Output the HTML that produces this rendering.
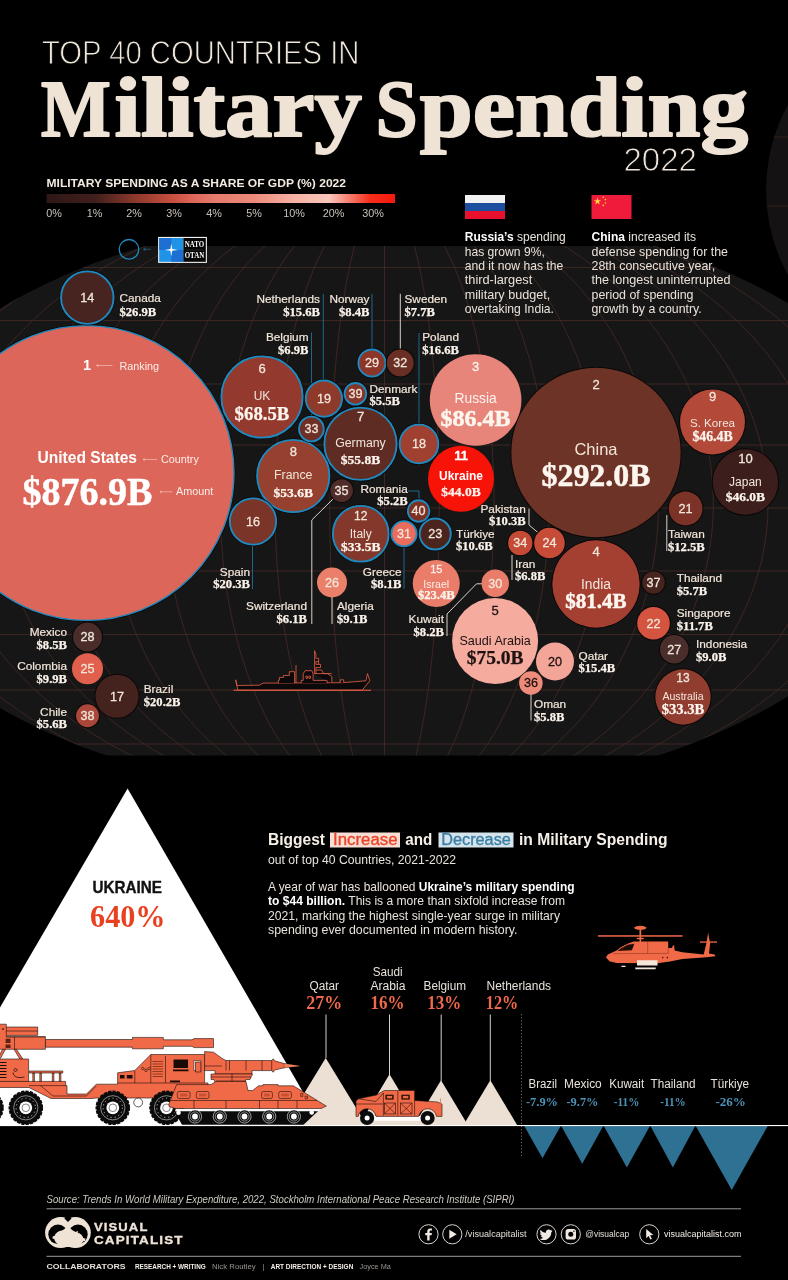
<!DOCTYPE html>
<html lang="en">
<head>
<meta charset="utf-8">
<title>Top 40 Countries in Military Spending 2022</title>
<style>
html,body{margin:0;padding:0;background:#000;}
body{width:788px;height:1280px;overflow:hidden;}
svg{display:block;}
text{white-space:pre;}
</style>
</head>
<body>
<svg width="788" height="1280" viewBox="0 0 788 1280">
<defs>
<clipPath id="globe"><ellipse cx="391.3" cy="504" rx="533.6" ry="293.8" transform="rotate(-0.887 391.3 504)"/></clipPath>
<clipPath id="band"><rect x="0" y="246" width="788" height="509.5"/></clipPath>
<linearGradient id="scale" x1="0" x2="1" y1="0" y2="0"><stop offset="0" stop-color="#2e1716"/><stop offset="0.14" stop-color="#401f1c"/><stop offset="0.25" stop-color="#8a372b"/><stop offset="0.365" stop-color="#c9503f"/><stop offset="0.42" stop-color="#dc6659"/><stop offset="0.48" stop-color="#e47a6c"/><stop offset="0.595" stop-color="#ec8a7a"/><stop offset="0.71" stop-color="#f6b0a4"/><stop offset="0.81" stop-color="#f9c6bb"/><stop offset="0.87" stop-color="#f67d6d"/><stop offset="0.93" stop-color="#f62c1b"/><stop offset="1" stop-color="#f5190c"/></linearGradient>
</defs>
<rect x="0" y="0" width="788" height="1280" fill="#000"/>
<circle cx="942" cy="190" r="176" fill="#141212"/>
<path d="M774 137H788M767 206H788" stroke="#3a2722" stroke-width="0.8" fill="none"/>
<g clip-path="url(#band)">
<ellipse cx="391.3" cy="504" rx="533.6" ry="293.8" fill="#171616" transform="rotate(-0.887 391.3 504)"/>
<g clip-path="url(#globe)" stroke="#4c2e26" stroke-width="0.7" fill="none">
<path d="M0 267.5H788"/>
<path d="M0 320.5H788"/>
<path d="M0 384H788"/>
<path d="M0 445H788"/>
<path d="M0 508H788"/>
<path d="M0 571H788"/>
<path d="M0 634.5H788"/>
<path d="M0 690H788"/>
<path d="M0 744H788"/>
<path d="M384.5 246V755.5"/>
<ellipse cx="384.5" cy="504" rx="54.8" ry="308"/>
<ellipse cx="384.5" cy="504" rx="109.6" ry="308"/>
<ellipse cx="384.5" cy="504" rx="164.4" ry="308"/>
<ellipse cx="384.5" cy="504" rx="219.2" ry="308"/>
<ellipse cx="384.5" cy="504" rx="274.0" ry="308"/>
<ellipse cx="384.5" cy="504" rx="328.8" ry="308"/>
<ellipse cx="384.5" cy="504" rx="383.6" ry="308"/>
<ellipse cx="384.5" cy="504" rx="438.4" ry="308"/>
<ellipse cx="384.5" cy="504" rx="493.2" ry="308"/>
<ellipse cx="384.5" cy="504" rx="548.0" ry="308"/>
</g></g>
<text x="42" y="64.3" font-family="'Liberation Sans', Arial, sans-serif" font-size="32.5" fill="#efe6dc" textLength="317.5" lengthAdjust="spacingAndGlyphs" stroke="#000" stroke-width="0.9">TOP 40 COUNTRIES IN</text>
<text aria-label="Military Spending" y="136" font-family="'Liberation Serif', 'Times New Roman', serif" font-size="79.5" font-weight="bold" fill="#efe3d6" stroke="#efe3d6" stroke-width="2.0" stroke-linejoin="round"><tspan x="41" textLength="69.8" lengthAdjust="spacingAndGlyphs">M</tspan><tspan x="114.6" font-size="85.5" textLength="247.3" lengthAdjust="spacingAndGlyphs">ilitary</tspan><tspan x="375.8" textLength="41.8" lengthAdjust="spacingAndGlyphs">S</tspan><tspan x="419.8" font-size="85.5" textLength="328.3" lengthAdjust="spacingAndGlyphs">pending</tspan></text>
<text x="623.5" y="171" font-family="'Liberation Sans', Arial, sans-serif" font-size="32.5" fill="#efe6dc" textLength="73.5" lengthAdjust="spacingAndGlyphs" stroke="#000" stroke-width="0.9">2022</text>
<text x="46.5" y="186.8" font-family="'Liberation Sans', Arial, sans-serif" font-size="11.8" font-weight="bold" fill="#f3ebe2" textLength="299.5" lengthAdjust="spacingAndGlyphs">MILITARY SPENDING AS A SHARE OF GDP (%) 2022</text>
<rect x="46.5" y="194" width="348.5" height="9" fill="url(#scale)"/>
<text x="54" y="216.7" font-family="'Liberation Sans', Arial, sans-serif" font-size="10.8" fill="#c9c2bb" text-anchor="middle">0%</text>
<text x="94.5" y="216.7" font-family="'Liberation Sans', Arial, sans-serif" font-size="10.8" fill="#c9c2bb" text-anchor="middle">1%</text>
<text x="134" y="216.7" font-family="'Liberation Sans', Arial, sans-serif" font-size="10.8" fill="#c9c2bb" text-anchor="middle">2%</text>
<text x="174" y="216.7" font-family="'Liberation Sans', Arial, sans-serif" font-size="10.8" fill="#c9c2bb" text-anchor="middle">3%</text>
<text x="214" y="216.7" font-family="'Liberation Sans', Arial, sans-serif" font-size="10.8" fill="#c9c2bb" text-anchor="middle">4%</text>
<text x="254" y="216.7" font-family="'Liberation Sans', Arial, sans-serif" font-size="10.8" fill="#c9c2bb" text-anchor="middle">5%</text>
<text x="294" y="216.7" font-family="'Liberation Sans', Arial, sans-serif" font-size="10.8" fill="#c9c2bb" text-anchor="middle">10%</text>
<text x="333.5" y="216.7" font-family="'Liberation Sans', Arial, sans-serif" font-size="10.8" fill="#c9c2bb" text-anchor="middle">20%</text>
<text x="373" y="216.7" font-family="'Liberation Sans', Arial, sans-serif" font-size="10.8" fill="#c9c2bb" text-anchor="middle">30%</text>
<circle cx="129" cy="249.3" r="9.8" fill="none" stroke="#1f8ac0" stroke-width="1.3"/>
<path d="M143.5 249.3H151M143.5 249.3l2.2 -1.6M143.5 249.3l2.2 1.6" stroke="#2a6f92" stroke-width="0.7" fill="none"/>
<g>
<rect x="158.100" y="236.900" width="48.800" height="26" fill="#f4f1ec"/>
<rect x="159.200" y="238" width="24.200" height="23.800" fill="#1f93e6"/>
<rect x="159.200" y="238" width="12.100" height="11.900" fill="#1d6fd2"/><rect x="171.300" y="249.900" width="12.100" height="11.900" fill="#1d6fd2"/>
<rect x="183.400" y="238" width="22.400" height="23.800" fill="#060606"/>
<path d="M171.300 243.500l0.900 5.500l5.800 0.900l-5.800 0.900l-0.900 5.500l-0.900 -5.500l-5.800 -0.900l5.800 -0.900z" fill="#fff"/>
<text x="194.4" y="247.1" font-family="'Liberation Serif', 'Times New Roman', serif" font-size="7.6" font-weight="bold" fill="#fff" text-anchor="middle" textLength="19.5" lengthAdjust="spacingAndGlyphs">NATO</text>
<text x="194.4" y="258" font-family="'Liberation Serif', 'Times New Roman', serif" font-size="7.6" font-weight="bold" fill="#fff" text-anchor="middle" textLength="19.5" lengthAdjust="spacingAndGlyphs">OTAN</text>
<path d="M185.500 250H203.500" stroke="#555" stroke-width="0.4"/>
</g>
<rect x="465" y="195" width="40" height="8" fill="#f2f2f2"/><rect x="465" y="203" width="40" height="8" fill="#1c4fa0"/><rect x="465" y="211" width="40" height="8" fill="#e8112d"/>
<rect x="591.5" y="195" width="40" height="24" fill="#ee1c3a"/>
<path d="M597.5 197.6l0.9 2.6h2.7l-2.2 1.6 0.8 2.6 -2.2 -1.6 -2.2 1.6 0.8 -2.6 -2.2 -1.6h2.7z" fill="#ffd83a"/>
<g fill="#ffd83a"><circle cx="603.3" cy="197.2" r="0.8"/><circle cx="605.5" cy="199.6" r="0.8"/><circle cx="605.5" cy="203" r="0.8"/><circle cx="603.3" cy="205.4" r="0.8"/></g>
<text x="464.75" y="241.25" font-family="'Liberation Sans', Arial, sans-serif" font-size="12.4" fill="#e9e2da" textLength="101" lengthAdjust="spacingAndGlyphs" xml:space="preserve"><tspan font-weight="bold" fill="#fff">Russia’s</tspan> spending</text>
<text x="464.75" y="255.6" font-family="'Liberation Sans', Arial, sans-serif" font-size="12.4" fill="#e9e2da" textLength="80" lengthAdjust="spacingAndGlyphs" xml:space="preserve">has grown 9%,</text>
<text x="464.75" y="269.95" font-family="'Liberation Sans', Arial, sans-serif" font-size="12.4" fill="#e9e2da" textLength="98.5" lengthAdjust="spacingAndGlyphs" xml:space="preserve">and it now has the</text>
<text x="464.75" y="284.3" font-family="'Liberation Sans', Arial, sans-serif" font-size="12.4" fill="#e9e2da" textLength="67.5" lengthAdjust="spacingAndGlyphs" xml:space="preserve">third-largest</text>
<text x="464.75" y="298.65" font-family="'Liberation Sans', Arial, sans-serif" font-size="12.4" fill="#e9e2da" textLength="85.5" lengthAdjust="spacingAndGlyphs" xml:space="preserve">military budget,</text>
<text x="464.75" y="313.0" font-family="'Liberation Sans', Arial, sans-serif" font-size="12.4" fill="#e9e2da" textLength="89.25" lengthAdjust="spacingAndGlyphs" xml:space="preserve">overtaking India.</text>
<text x="591.5" y="241.25" font-family="'Liberation Sans', Arial, sans-serif" font-size="12.4" fill="#e9e2da" textLength="104.5" lengthAdjust="spacingAndGlyphs" xml:space="preserve"><tspan font-weight="bold" fill="#fff">China</tspan> increased its</text>
<text x="591.5" y="255.6" font-family="'Liberation Sans', Arial, sans-serif" font-size="12.4" fill="#e9e2da" textLength="136.5" lengthAdjust="spacingAndGlyphs" xml:space="preserve">defense spending for the</text>
<text x="591.5" y="269.95" font-family="'Liberation Sans', Arial, sans-serif" font-size="12.4" fill="#e9e2da" textLength="123.75" lengthAdjust="spacingAndGlyphs" xml:space="preserve">28th consecutive year,</text>
<text x="591.5" y="284.3" font-family="'Liberation Sans', Arial, sans-serif" font-size="12.4" fill="#e9e2da" textLength="139" lengthAdjust="spacingAndGlyphs" xml:space="preserve">the longest uninterrupted</text>
<text x="591.5" y="298.65" font-family="'Liberation Sans', Arial, sans-serif" font-size="12.4" fill="#e9e2da" textLength="102" lengthAdjust="spacingAndGlyphs" xml:space="preserve">period of spending</text>
<text x="591.5" y="313.0" font-family="'Liberation Sans', Arial, sans-serif" font-size="12.4" fill="#e9e2da" textLength="110.25" lengthAdjust="spacingAndGlyphs" xml:space="preserve">growth by a country.</text>
<g fill="none" stroke-width="1">
<path d="M323.3 293.8V380M372 293.8V349M311.5 332.5V416M419 333V424M252.5 545V589M404 547V588.8M408 491H419V499.5" stroke="#1b7199" stroke-width="0.9"/>
<path d="M400.3 293.8V349.5M311.8 624V520L334 498M332 597V624M529 508.8V525L538.5 533M512 555V580M447 636V614L476.5 583.8H482M531 694V720.5M666.8 515V551" stroke="#d8d0c8"/>
</g>
<circle cx="86.6" cy="473" r="148.80" fill="#0a0808"/><circle cx="86.6" cy="473" r="147.40" fill="#dc6659" stroke="#1f8ac0" stroke-width="1.4"/>
<circle cx="596" cy="452.5" r="85.70" fill="#0a0707"/><circle cx="596" cy="452.5" r="84.70" fill="#6d3326"/>
<circle cx="475.6" cy="400" r="45.8" fill="#e7857a"/>
<circle cx="596" cy="584" r="44.70" fill="#0a0707"/><circle cx="596" cy="584" r="43.70" fill="#a34032"/>
<circle cx="495.1" cy="641" r="43" fill="#f6ab9f"/>
<circle cx="262" cy="397" r="42.30" fill="#0a0808"/><circle cx="262" cy="397" r="40.65" fill="#93392d" stroke="#1f8ac0" stroke-width="1.9"/>
<circle cx="360.5" cy="443.75" r="37.80" fill="#0a0808"/><circle cx="360.5" cy="443.75" r="36.15" fill="#5f2c23" stroke="#1f8ac0" stroke-width="1.9"/>
<circle cx="293.25" cy="476" r="37.80" fill="#0a0808"/><circle cx="293.25" cy="476" r="36.15" fill="#96402f" stroke="#1f8ac0" stroke-width="1.9"/>
<circle cx="745.4" cy="482" r="33.70" fill="#0a0707"/><circle cx="745.4" cy="482" r="32.70" fill="#3c1e1c"/>
<circle cx="461" cy="478.75" r="33" fill="#f81308"/>
<circle cx="712.5" cy="422" r="33.50" fill="#0a0707"/><circle cx="712.5" cy="422" r="32.50" fill="#b24939"/>
<circle cx="360.75" cy="533.75" r="29.55" fill="#0a0808"/><circle cx="360.75" cy="533.75" r="27.90" fill="#83382b" stroke="#1f8ac0" stroke-width="1.9"/>
<circle cx="683" cy="697" r="28.70" fill="#0a0707"/><circle cx="683" cy="697" r="27.70" fill="#903c2f"/>
<circle cx="87.3" cy="297.6" r="27.90" fill="#0a0808"/><circle cx="87.3" cy="297.6" r="26.25" fill="#47241f" stroke="#1f8ac0" stroke-width="1.9"/>
<circle cx="253" cy="521.5" r="24.80" fill="#0a0808"/><circle cx="253" cy="521.5" r="23.15" fill="#7b3428" stroke="#1f8ac0" stroke-width="1.9"/>
<circle cx="436.25" cy="583.5" r="23.5" fill="#ea7c6a"/>
<circle cx="117" cy="696.25" r="22.60" fill="#0a0707"/><circle cx="117" cy="696.25" r="21.60" fill="#44231f"/>
<circle cx="419" cy="444" r="21.00" fill="#0a0808"/><circle cx="419" cy="444" r="19.35" fill="#a04030" stroke="#1f8ac0" stroke-width="1.9"/>
<circle cx="323.9" cy="398.6" r="19.80" fill="#0a0808"/><circle cx="323.9" cy="398.6" r="18.15" fill="#8e3a2b" stroke="#1f8ac0" stroke-width="1.9"/>
<circle cx="555" cy="661.5" r="19" fill="#f3a598"/>
<circle cx="685.6" cy="508.5" r="17.90" fill="#0a0707"/><circle cx="685.6" cy="508.5" r="16.90" fill="#7c3327"/>
<circle cx="653.5" cy="623.25" r="17.30" fill="#0a0707"/><circle cx="653.5" cy="623.25" r="16.30" fill="#d4543f"/>
<circle cx="435.25" cy="534" r="17.20" fill="#0a0808"/><circle cx="435.25" cy="534" r="15.55" fill="#4b241e" stroke="#1f8ac0" stroke-width="1.9"/>
<circle cx="549.5" cy="543" r="16.30" fill="#0a0707"/><circle cx="549.5" cy="543" r="15.30" fill="#c64c38"/>
<circle cx="87.5" cy="668.75" r="15.5" fill="#e0604d"/>
<circle cx="332" cy="582.5" r="15" fill="#ea8069"/>
<circle cx="87.5" cy="637" r="15.45" fill="#0a0707"/><circle cx="87.5" cy="637" r="14.45" fill="#4a2d2b"/>
<circle cx="674.25" cy="649.25" r="15.30" fill="#0a0707"/><circle cx="674.25" cy="649.25" r="14.30" fill="#4a2e2c"/>
<circle cx="371.9" cy="363" r="15.20" fill="#0a0808"/><circle cx="371.9" cy="363" r="13.55" fill="#8b3628" stroke="#1f8ac0" stroke-width="1.9"/>
<circle cx="495.25" cy="583.25" r="13.75" fill="#ea7c6a"/>
<circle cx="400.25" cy="363" r="14.45" fill="#0a0707"/><circle cx="400.25" cy="363" r="13.45" fill="#6a2f24"/>
<circle cx="404" cy="533.75" r="14.30" fill="#0a0808"/><circle cx="404" cy="533.75" r="12.65" fill="#ea6c5d" stroke="#1f8ac0" stroke-width="1.9"/>
<circle cx="311.4" cy="429" r="14.00" fill="#0a0808"/><circle cx="311.4" cy="429" r="12.35" fill="#6e2f25" stroke="#1f8ac0" stroke-width="1.9"/>
<circle cx="520.25" cy="543" r="13.20" fill="#0a0707"/><circle cx="520.25" cy="543" r="12.20" fill="#c44a36"/>
<circle cx="530.9" cy="683" r="11.75" fill="#ee8c7c"/>
<circle cx="87.5" cy="715.75" r="12.45" fill="#0a0707"/><circle cx="87.5" cy="715.75" r="11.45" fill="#a8473a"/>
<circle cx="341.6" cy="490.6" r="12.40" fill="#0a0707"/><circle cx="341.6" cy="490.6" r="11.40" fill="#4f2c2a"/>
<circle cx="355.4" cy="393.8" r="12.50" fill="#0a0808"/><circle cx="355.4" cy="393.8" r="10.85" fill="#84362a" stroke="#1f8ac0" stroke-width="1.9"/>
<circle cx="653.5" cy="582.5" r="12.30" fill="#0a0707"/><circle cx="653.5" cy="582.5" r="11.30" fill="#47251f"/>
<circle cx="418.6" cy="511" r="12.40" fill="#0a0808"/><circle cx="418.6" cy="511" r="10.75" fill="#7c3124" stroke="#1f8ac0" stroke-width="1.9"/>
<text x="596" y="389.3" font-family="'Liberation Sans', Arial, sans-serif" font-size="13" fill="#f1e6da" text-anchor="middle" stroke="#f1e6da" stroke-width="0.3">2</text>
<text x="596" y="455" font-family="'Liberation Sans', Arial, sans-serif" font-size="16.5" fill="#f1e6da" text-anchor="middle">China</text>
<text x="596" y="486" font-family="'Liberation Serif', 'Times New Roman', serif" font-size="31" font-weight="bold" fill="#fdf6ef" text-anchor="middle" textLength="109" lengthAdjust="spacingAndGlyphs" stroke="#fdf6ef" stroke-width="0.5">$292.0B</text>
<text x="475.6" y="371.3" font-family="'Liberation Sans', Arial, sans-serif" font-size="13" fill="#fdf3ee" text-anchor="middle" stroke="#fdf3ee" stroke-width="0.3">3</text>
<text x="475.6" y="403" font-family="'Liberation Sans', Arial, sans-serif" font-size="13.8" fill="#fdf3ee" text-anchor="middle">Russia</text>
<text x="475.6" y="426" font-family="'Liberation Serif', 'Times New Roman', serif" font-size="24" font-weight="bold" fill="#fdf6ef" text-anchor="middle" stroke="#fdf6ef" stroke-width="0.5">$86.4B</text>
<text x="596" y="555.8" font-family="'Liberation Sans', Arial, sans-serif" font-size="13" fill="#f1e6da" text-anchor="middle" stroke="#f1e6da" stroke-width="0.3">4</text>
<text x="596" y="589" font-family="'Liberation Sans', Arial, sans-serif" font-size="13.8" fill="#f1e6da" text-anchor="middle">India</text>
<text x="596" y="607.5" font-family="'Liberation Serif', 'Times New Roman', serif" font-size="21" font-weight="bold" fill="#fdf6ef" text-anchor="middle" stroke="#fdf6ef" stroke-width="0.5">$81.4B</text>
<text x="495.1" y="614.8" font-family="'Liberation Sans', Arial, sans-serif" font-size="13" fill="#1e1210" text-anchor="middle" stroke="#1e1210" stroke-width="0.3">5</text>
<text x="495.1" y="644.5" font-family="'Liberation Sans', Arial, sans-serif" font-size="12.6" fill="#1e1210" text-anchor="middle">Saudi Arabia</text>
<text x="495.1" y="664" font-family="'Liberation Serif', 'Times New Roman', serif" font-size="19.5" font-weight="bold" fill="#1e1210" text-anchor="middle" stroke="#1e1210" stroke-width="0.25">$75.0B</text>
<text x="262" y="372.8" font-family="'Liberation Sans', Arial, sans-serif" font-size="13" fill="#f1e6da" text-anchor="middle" stroke="#f1e6da" stroke-width="0.3">6</text>
<text x="262" y="400" font-family="'Liberation Sans', Arial, sans-serif" font-size="12" fill="#f1e6da" text-anchor="middle">UK</text>
<text x="262" y="419.5" font-family="'Liberation Serif', 'Times New Roman', serif" font-size="18.8" font-weight="bold" fill="#fdf6ef" text-anchor="middle" stroke="#fdf6ef" stroke-width="0.25">$68.5B</text>
<text x="360.5" y="421.3" font-family="'Liberation Sans', Arial, sans-serif" font-size="13" fill="#f1e6da" text-anchor="middle" stroke="#f1e6da" stroke-width="0.3">7</text>
<text x="360.5" y="447" font-family="'Liberation Sans', Arial, sans-serif" font-size="12.3" fill="#f1e6da" text-anchor="middle">Germany</text>
<text x="360.5" y="463.75" font-family="'Liberation Serif', 'Times New Roman', serif" font-size="13.5" font-weight="bold" fill="#fdf6ef" text-anchor="middle" stroke="#fdf6ef" stroke-width="0.25">$55.8B</text>
<text x="293.25" y="455.8" font-family="'Liberation Sans', Arial, sans-serif" font-size="13" fill="#f1e6da" text-anchor="middle" stroke="#f1e6da" stroke-width="0.3">8</text>
<text x="293.25" y="478.75" font-family="'Liberation Sans', Arial, sans-serif" font-size="12.3" fill="#f1e6da" text-anchor="middle">France</text>
<text x="293.25" y="497" font-family="'Liberation Serif', 'Times New Roman', serif" font-size="13.5" font-weight="bold" fill="#fdf6ef" text-anchor="middle" stroke="#fdf6ef" stroke-width="0.25">$53.6B</text>
<text x="712.5" y="401.3" font-family="'Liberation Sans', Arial, sans-serif" font-size="13" fill="#f1e6da" text-anchor="middle" stroke="#f1e6da" stroke-width="0.3">9</text>
<text x="712.5" y="427" font-family="'Liberation Sans', Arial, sans-serif" font-size="11.6" fill="#f1e6da" text-anchor="middle">S. Korea</text>
<text x="712.5" y="441" font-family="'Liberation Serif', 'Times New Roman', serif" font-size="13.8" font-weight="bold" fill="#fdf6ef" text-anchor="middle" stroke="#fdf6ef" stroke-width="0.25">$46.4B</text>
<text x="745.4" y="463.3" font-family="'Liberation Sans', Arial, sans-serif" font-size="13" fill="#f1e6da" text-anchor="middle" stroke="#f1e6da" stroke-width="0.3">10</text>
<text x="745.4" y="485.5" font-family="'Liberation Sans', Arial, sans-serif" font-size="12" fill="#f1e6da" text-anchor="middle">Japan</text>
<text x="745.4" y="501" font-family="'Liberation Serif', 'Times New Roman', serif" font-size="13.5" font-weight="bold" fill="#fdf6ef" text-anchor="middle" stroke="#fdf6ef" stroke-width="0.25">$46.0B</text>
<text x="461" y="460.3" font-family="'Liberation Sans', Arial, sans-serif" font-size="13" font-weight="bold" fill="#fff" text-anchor="middle" stroke="#fff" stroke-width="0.3">11</text>
<text x="461" y="480" font-family="'Liberation Sans', Arial, sans-serif" font-size="12" font-weight="bold" fill="#fff" text-anchor="middle">Ukraine</text>
<text x="461" y="496" font-family="'Liberation Serif', 'Times New Roman', serif" font-size="13.5" font-weight="bold" fill="#fdf6ef" text-anchor="middle" stroke="#fdf6ef" stroke-width="0.25">$44.0B</text>
<text x="360.75" y="519.5" font-family="'Liberation Sans', Arial, sans-serif" font-size="12" fill="#f1e6da" text-anchor="middle" stroke="#f1e6da" stroke-width="0.3">12</text>
<text x="360.75" y="537.5" font-family="'Liberation Sans', Arial, sans-serif" font-size="12" fill="#f1e6da" text-anchor="middle">Italy</text>
<text x="360.75" y="551.25" font-family="'Liberation Serif', 'Times New Roman', serif" font-size="13.5" font-weight="bold" fill="#fdf6ef" text-anchor="middle" stroke="#fdf6ef" stroke-width="0.25">$33.5B</text>
<text x="683" y="682" font-family="'Liberation Sans', Arial, sans-serif" font-size="12" fill="#f1e6da" text-anchor="middle" stroke="#f1e6da" stroke-width="0.3">13</text>
<text x="683" y="700" font-family="'Liberation Sans', Arial, sans-serif" font-size="10.6" fill="#f1e6da" text-anchor="middle">Australia</text>
<text x="683" y="713.75" font-family="'Liberation Serif', 'Times New Roman', serif" font-size="14.6" font-weight="bold" fill="#fdf6ef" text-anchor="middle" stroke="#fdf6ef" stroke-width="0.25">$33.3B</text>
<text x="87.3" y="301.90000000000003" font-family="'Liberation Sans', Arial, sans-serif" font-size="12.6" fill="#f1e6da" text-anchor="middle" stroke="#f1e6da" stroke-width="0.3">14</text>
<text x="436.25" y="572.5" font-family="'Liberation Sans', Arial, sans-serif" font-size="11" fill="#fdeee8" text-anchor="middle" stroke="#fdeee8" stroke-width="0.3">15</text>
<text x="436.25" y="587.5" font-family="'Liberation Sans', Arial, sans-serif" font-size="10.6" fill="#fdeee8" text-anchor="middle">Israel</text>
<text x="436.25" y="599" font-family="'Liberation Serif', 'Times New Roman', serif" font-size="12.6" font-weight="bold" fill="#fdf6ef" text-anchor="middle" stroke="#fdf6ef" stroke-width="0.25">$23.4B</text>
<text x="253" y="525.8" font-family="'Liberation Sans', Arial, sans-serif" font-size="12.6" fill="#f1e6da" text-anchor="middle" stroke="#f1e6da" stroke-width="0.3">16</text>
<text x="117" y="700.55" font-family="'Liberation Sans', Arial, sans-serif" font-size="12.6" fill="#f1e6da" text-anchor="middle" stroke="#f1e6da" stroke-width="0.3">17</text>
<text x="419" y="448.3" font-family="'Liberation Sans', Arial, sans-serif" font-size="12.6" fill="#f1e6da" text-anchor="middle" stroke="#f1e6da" stroke-width="0.3">18</text>
<text x="323.9" y="402.90000000000003" font-family="'Liberation Sans', Arial, sans-serif" font-size="12.6" fill="#f1e6da" text-anchor="middle" stroke="#f1e6da" stroke-width="0.3">19</text>
<text x="555" y="665.8" font-family="'Liberation Sans', Arial, sans-serif" font-size="12.6" fill="#1e1210" text-anchor="middle" stroke="#1e1210" stroke-width="0.3">20</text>
<text x="685.6" y="512.8" font-family="'Liberation Sans', Arial, sans-serif" font-size="12.6" fill="#f1e6da" text-anchor="middle" stroke="#f1e6da" stroke-width="0.3">21</text>
<text x="653.5" y="627.55" font-family="'Liberation Sans', Arial, sans-serif" font-size="12.6" fill="#f1e6da" text-anchor="middle" stroke="#f1e6da" stroke-width="0.3">22</text>
<text x="435.25" y="538.3" font-family="'Liberation Sans', Arial, sans-serif" font-size="12.6" fill="#f1e6da" text-anchor="middle" stroke="#f1e6da" stroke-width="0.3">23</text>
<text x="549.5" y="547.3" font-family="'Liberation Sans', Arial, sans-serif" font-size="12.6" fill="#f1e6da" text-anchor="middle" stroke="#f1e6da" stroke-width="0.3">24</text>
<text x="87.5" y="673.05" font-family="'Liberation Sans', Arial, sans-serif" font-size="12.6" fill="#f1e6da" text-anchor="middle" stroke="#f1e6da" stroke-width="0.3">25</text>
<text x="332" y="586.8" font-family="'Liberation Sans', Arial, sans-serif" font-size="12.6" fill="#f1e6da" text-anchor="middle" stroke="#f1e6da" stroke-width="0.3">26</text>
<text x="674.25" y="653.55" font-family="'Liberation Sans', Arial, sans-serif" font-size="12.6" fill="#f1e6da" text-anchor="middle" stroke="#f1e6da" stroke-width="0.3">27</text>
<text x="87.5" y="641.3" font-family="'Liberation Sans', Arial, sans-serif" font-size="12.6" fill="#f1e6da" text-anchor="middle" stroke="#f1e6da" stroke-width="0.3">28</text>
<text x="371.9" y="367.3" font-family="'Liberation Sans', Arial, sans-serif" font-size="12.6" fill="#f1e6da" text-anchor="middle" stroke="#f1e6da" stroke-width="0.3">29</text>
<text x="495.25" y="587.55" font-family="'Liberation Sans', Arial, sans-serif" font-size="12.6" fill="#f1e6da" text-anchor="middle" stroke="#f1e6da" stroke-width="0.3">30</text>
<text x="404" y="538.05" font-family="'Liberation Sans', Arial, sans-serif" font-size="12.6" fill="#f1e6da" text-anchor="middle" stroke="#f1e6da" stroke-width="0.3">31</text>
<text x="400.25" y="367.3" font-family="'Liberation Sans', Arial, sans-serif" font-size="12.6" fill="#f1e6da" text-anchor="middle" stroke="#f1e6da" stroke-width="0.3">32</text>
<text x="311.4" y="433.3" font-family="'Liberation Sans', Arial, sans-serif" font-size="12.6" fill="#f1e6da" text-anchor="middle" stroke="#f1e6da" stroke-width="0.3">33</text>
<text x="520.25" y="547.3" font-family="'Liberation Sans', Arial, sans-serif" font-size="12.6" fill="#f1e6da" text-anchor="middle" stroke="#f1e6da" stroke-width="0.3">34</text>
<text x="341.6" y="494.90000000000003" font-family="'Liberation Sans', Arial, sans-serif" font-size="12.6" fill="#f1e6da" text-anchor="middle" stroke="#f1e6da" stroke-width="0.3">35</text>
<text x="530.9" y="687.3" font-family="'Liberation Sans', Arial, sans-serif" font-size="12.6" fill="#1e1210" text-anchor="middle" stroke="#1e1210" stroke-width="0.3">36</text>
<text x="653.5" y="586.8" font-family="'Liberation Sans', Arial, sans-serif" font-size="12.6" fill="#f1e6da" text-anchor="middle" stroke="#f1e6da" stroke-width="0.3">37</text>
<text x="87.5" y="720.05" font-family="'Liberation Sans', Arial, sans-serif" font-size="12.6" fill="#f1e6da" text-anchor="middle" stroke="#f1e6da" stroke-width="0.3">38</text>
<text x="355.4" y="398.1" font-family="'Liberation Sans', Arial, sans-serif" font-size="12.6" fill="#f1e6da" text-anchor="middle" stroke="#f1e6da" stroke-width="0.3">39</text>
<text x="418.6" y="515.3" font-family="'Liberation Sans', Arial, sans-serif" font-size="12.6" fill="#f1e6da" text-anchor="middle" stroke="#f1e6da" stroke-width="0.3">40</text>
<text x="87" y="370" font-family="'Liberation Sans', Arial, sans-serif" font-size="14.5" font-weight="bold" fill="#fff" text-anchor="middle">1</text>
<text x="119.5" y="369.5" font-family="'Liberation Sans', Arial, sans-serif" font-size="10.8" fill="#fbeee9">Ranking</text>
<text x="37.5" y="463" font-family="'Liberation Sans', Arial, sans-serif" font-size="16" font-weight="bold" fill="#fff" textLength="99.5" lengthAdjust="spacingAndGlyphs">United States</text>
<text x="161" y="463" font-family="'Liberation Sans', Arial, sans-serif" font-size="10.8" fill="#fbeee9">Country</text>
<text x="22.5" y="505" font-family="'Liberation Serif', 'Times New Roman', serif" font-size="41" font-weight="bold" fill="#fff" textLength="130" lengthAdjust="spacingAndGlyphs" stroke="#fff" stroke-width="0.5">$876.9B</text>
<text x="176" y="495" font-family="'Liberation Sans', Arial, sans-serif" font-size="10.8" fill="#fbeee9">Amount</text>
<g stroke="#f3c0b8" stroke-width="0.7" fill="none">
<path d="M96.5 365.5H112.5M96.5 365.5l1.8 -1.3M96.5 365.5l1.8 1.3"/>
<path d="M143 459.5H157M143 459.5l1.8 -1.3M143 459.5l1.8 1.3"/>
<path d="M160 491.8H172.5M160 491.8l1.8 -1.3M160 491.8l1.8 1.3"/>
</g>
<text x="119.5" y="302" font-family="'Liberation Sans', Arial, sans-serif" font-size="11.8" fill="#f1e6da" stroke="#f1e6da" stroke-width="0.2">Canada</text>
<text x="119.5" y="315.75" font-family="'Liberation Serif', 'Times New Roman', serif" font-size="12.6" font-weight="bold" fill="#fbf4ec" stroke="#fbf4ec" stroke-width="0.25">$26.9B</text>
<text x="320" y="302.5" font-family="'Liberation Sans', Arial, sans-serif" font-size="11.8" fill="#f1e6da" text-anchor="end" stroke="#f1e6da" stroke-width="0.2">Netherlands</text>
<text x="320" y="316" font-family="'Liberation Serif', 'Times New Roman', serif" font-size="12.6" font-weight="bold" fill="#fbf4ec" text-anchor="end" stroke="#fbf4ec" stroke-width="0.25">$15.6B</text>
<text x="369.5" y="302.5" font-family="'Liberation Sans', Arial, sans-serif" font-size="11.8" fill="#f1e6da" text-anchor="end" stroke="#f1e6da" stroke-width="0.2">Norway</text>
<text x="369.5" y="316" font-family="'Liberation Serif', 'Times New Roman', serif" font-size="12.6" font-weight="bold" fill="#fbf4ec" text-anchor="end" stroke="#fbf4ec" stroke-width="0.25">$8.4B</text>
<text x="308.5" y="341" font-family="'Liberation Sans', Arial, sans-serif" font-size="11.8" fill="#f1e6da" text-anchor="end" stroke="#f1e6da" stroke-width="0.2">Belgium</text>
<text x="308.5" y="354" font-family="'Liberation Serif', 'Times New Roman', serif" font-size="12.6" font-weight="bold" fill="#fbf4ec" text-anchor="end" stroke="#fbf4ec" stroke-width="0.25">$6.9B</text>
<text x="404.5" y="302.5" font-family="'Liberation Sans', Arial, sans-serif" font-size="11.8" fill="#f1e6da" stroke="#f1e6da" stroke-width="0.2">Sweden</text>
<text x="404.5" y="316" font-family="'Liberation Serif', 'Times New Roman', serif" font-size="12.6" font-weight="bold" fill="#fbf4ec" stroke="#fbf4ec" stroke-width="0.25">$7.7B</text>
<text x="422.25" y="341" font-family="'Liberation Sans', Arial, sans-serif" font-size="11.8" fill="#f1e6da" stroke="#f1e6da" stroke-width="0.2">Poland</text>
<text x="422.25" y="354" font-family="'Liberation Serif', 'Times New Roman', serif" font-size="12.6" font-weight="bold" fill="#fbf4ec" stroke="#fbf4ec" stroke-width="0.25">$16.6B</text>
<text x="369.5" y="392.5" font-family="'Liberation Sans', Arial, sans-serif" font-size="11.8" fill="#f1e6da" stroke="#f1e6da" stroke-width="0.2">Denmark</text>
<text x="369.5" y="405" font-family="'Liberation Serif', 'Times New Roman', serif" font-size="12.6" font-weight="bold" fill="#fbf4ec" stroke="#fbf4ec" stroke-width="0.25">$5.5B</text>
<text x="407.75" y="492.5" font-family="'Liberation Sans', Arial, sans-serif" font-size="11.8" fill="#f1e6da" text-anchor="end" stroke="#f1e6da" stroke-width="0.2">Romania</text>
<text x="407.75" y="504.5" font-family="'Liberation Serif', 'Times New Roman', serif" font-size="12.6" font-weight="bold" fill="#fbf4ec" text-anchor="end" stroke="#fbf4ec" stroke-width="0.25">$5.2B</text>
<text x="250" y="575.5" font-family="'Liberation Sans', Arial, sans-serif" font-size="11.8" fill="#f1e6da" text-anchor="end" stroke="#f1e6da" stroke-width="0.2">Spain</text>
<text x="250" y="587.5" font-family="'Liberation Serif', 'Times New Roman', serif" font-size="12.6" font-weight="bold" fill="#fbf4ec" text-anchor="end" stroke="#fbf4ec" stroke-width="0.25">$20.3B</text>
<text x="307" y="609.5" font-family="'Liberation Sans', Arial, sans-serif" font-size="11.8" fill="#f1e6da" text-anchor="end" stroke="#f1e6da" stroke-width="0.2">Switzerland</text>
<text x="307" y="622.5" font-family="'Liberation Serif', 'Times New Roman', serif" font-size="12.6" font-weight="bold" fill="#fbf4ec" text-anchor="end" stroke="#fbf4ec" stroke-width="0.25">$6.1B</text>
<text x="337" y="609.5" font-family="'Liberation Sans', Arial, sans-serif" font-size="11.8" fill="#f1e6da" stroke="#f1e6da" stroke-width="0.2">Algeria</text>
<text x="337" y="622.5" font-family="'Liberation Serif', 'Times New Roman', serif" font-size="12.6" font-weight="bold" fill="#fbf4ec" stroke="#fbf4ec" stroke-width="0.25">$9.1B</text>
<text x="401.5" y="575.5" font-family="'Liberation Sans', Arial, sans-serif" font-size="11.8" fill="#f1e6da" text-anchor="end" stroke="#f1e6da" stroke-width="0.2">Greece</text>
<text x="401.5" y="587.5" font-family="'Liberation Serif', 'Times New Roman', serif" font-size="12.6" font-weight="bold" fill="#fbf4ec" text-anchor="end" stroke="#fbf4ec" stroke-width="0.25">$8.1B</text>
<text x="456" y="537.5" font-family="'Liberation Sans', Arial, sans-serif" font-size="11.8" fill="#f1e6da" stroke="#f1e6da" stroke-width="0.2">Türkiye</text>
<text x="456" y="550" font-family="'Liberation Serif', 'Times New Roman', serif" font-size="12.6" font-weight="bold" fill="#fbf4ec" stroke="#fbf4ec" stroke-width="0.25">$10.6B</text>
<text x="525.75" y="513" font-family="'Liberation Sans', Arial, sans-serif" font-size="11.8" fill="#f1e6da" text-anchor="end" stroke="#f1e6da" stroke-width="0.2">Pakistan</text>
<text x="525.75" y="525" font-family="'Liberation Serif', 'Times New Roman', serif" font-size="12.6" font-weight="bold" fill="#fbf4ec" text-anchor="end" stroke="#fbf4ec" stroke-width="0.25">$10.3B</text>
<text x="515" y="567.5" font-family="'Liberation Sans', Arial, sans-serif" font-size="11.8" fill="#f1e6da" stroke="#f1e6da" stroke-width="0.2">Iran</text>
<text x="515" y="580" font-family="'Liberation Serif', 'Times New Roman', serif" font-size="12.6" font-weight="bold" fill="#fbf4ec" stroke="#fbf4ec" stroke-width="0.25">$6.8B</text>
<text x="444" y="622.5" font-family="'Liberation Sans', Arial, sans-serif" font-size="11.8" fill="#f1e6da" text-anchor="end" stroke="#f1e6da" stroke-width="0.2">Kuwait</text>
<text x="444" y="635.75" font-family="'Liberation Serif', 'Times New Roman', serif" font-size="12.6" font-weight="bold" fill="#fbf4ec" text-anchor="end" stroke="#fbf4ec" stroke-width="0.25">$8.2B</text>
<text x="578.5" y="659.5" font-family="'Liberation Sans', Arial, sans-serif" font-size="11.8" fill="#f1e6da" stroke="#f1e6da" stroke-width="0.2">Qatar</text>
<text x="578.5" y="672" font-family="'Liberation Serif', 'Times New Roman', serif" font-size="12.6" font-weight="bold" fill="#fbf4ec" stroke="#fbf4ec" stroke-width="0.25">$15.4B</text>
<text x="534" y="708" font-family="'Liberation Sans', Arial, sans-serif" font-size="11.8" fill="#f1e6da" stroke="#f1e6da" stroke-width="0.2">Oman</text>
<text x="534" y="720.5" font-family="'Liberation Serif', 'Times New Roman', serif" font-size="12.6" font-weight="bold" fill="#fbf4ec" stroke="#fbf4ec" stroke-width="0.25">$5.8B</text>
<text x="668" y="537.5" font-family="'Liberation Sans', Arial, sans-serif" font-size="11.8" fill="#f1e6da" stroke="#f1e6da" stroke-width="0.2">Taiwan</text>
<text x="668" y="550.75" font-family="'Liberation Serif', 'Times New Roman', serif" font-size="12.6" font-weight="bold" fill="#fbf4ec" stroke="#fbf4ec" stroke-width="0.25">$12.5B</text>
<text x="676.75" y="581.75" font-family="'Liberation Sans', Arial, sans-serif" font-size="11.8" fill="#f1e6da" stroke="#f1e6da" stroke-width="0.2">Thailand</text>
<text x="676.75" y="594.5" font-family="'Liberation Serif', 'Times New Roman', serif" font-size="12.6" font-weight="bold" fill="#fbf4ec" stroke="#fbf4ec" stroke-width="0.25">$5.7B</text>
<text x="676.75" y="617" font-family="'Liberation Sans', Arial, sans-serif" font-size="11.8" fill="#f1e6da" stroke="#f1e6da" stroke-width="0.2">Singapore</text>
<text x="676.75" y="630" font-family="'Liberation Serif', 'Times New Roman', serif" font-size="12.6" font-weight="bold" fill="#fbf4ec" stroke="#fbf4ec" stroke-width="0.25">$11.7B</text>
<text x="696" y="647.5" font-family="'Liberation Sans', Arial, sans-serif" font-size="11.8" fill="#f1e6da" stroke="#f1e6da" stroke-width="0.2">Indonesia</text>
<text x="696" y="660.5" font-family="'Liberation Serif', 'Times New Roman', serif" font-size="12.6" font-weight="bold" fill="#fbf4ec" stroke="#fbf4ec" stroke-width="0.25">$9.0B</text>
<text x="67" y="636" font-family="'Liberation Sans', Arial, sans-serif" font-size="11.8" fill="#f1e6da" text-anchor="end" stroke="#f1e6da" stroke-width="0.2">Mexico</text>
<text x="67" y="649" font-family="'Liberation Serif', 'Times New Roman', serif" font-size="12.6" font-weight="bold" fill="#fbf4ec" text-anchor="end" stroke="#fbf4ec" stroke-width="0.25">$8.5B</text>
<text x="67" y="669.5" font-family="'Liberation Sans', Arial, sans-serif" font-size="11.8" fill="#f1e6da" text-anchor="end" stroke="#f1e6da" stroke-width="0.2">Colombia</text>
<text x="67" y="682.5" font-family="'Liberation Serif', 'Times New Roman', serif" font-size="12.6" font-weight="bold" fill="#fbf4ec" text-anchor="end" stroke="#fbf4ec" stroke-width="0.25">$9.9B</text>
<text x="67" y="715.75" font-family="'Liberation Sans', Arial, sans-serif" font-size="11.8" fill="#f1e6da" text-anchor="end" stroke="#f1e6da" stroke-width="0.2">Chile</text>
<text x="67" y="728" font-family="'Liberation Serif', 'Times New Roman', serif" font-size="12.6" font-weight="bold" fill="#fbf4ec" text-anchor="end" stroke="#fbf4ec" stroke-width="0.25">$5.6B</text>
<text x="143.75" y="693" font-family="'Liberation Sans', Arial, sans-serif" font-size="11.8" fill="#f1e6da" stroke="#f1e6da" stroke-width="0.2">Brazil</text>
<text x="143.75" y="706" font-family="'Liberation Serif', 'Times New Roman', serif" font-size="12.6" font-weight="bold" fill="#fbf4ec" stroke="#fbf4ec" stroke-width="0.25">$20.2B</text>
<g fill="none" stroke="#ea6149" stroke-width="0.8" stroke-linejoin="round">
<path d="M235.6 679.8L237.1 685.5L259.4 685.2L263.2 683.1L342.2 682.7L366.0 680.8L367.5 673.6L369.8 680.8L362.2 690.1L237.9 690.1z" fill="#0b0909"/>
<path d="M233.5 690.3H371" stroke-width="1.1"/>
<path d="M278.4 683.1L278.4 680.2L279.4 680.2L279.4 677.4L283.6 677.4L283.6 675.5L289.3 675.5L289.3 671.7L294.6 671.7L294.6 683.1M296.0 665.0L296.0 683.1M301.3 683.1L301.3 680.4L303.2 680.4L303.2 673.9L305.1 670.7L311.8 670.7L313.1 673.9L313.1 680.4L327.0 680.4L327.0 683.1M314.6 673.9L314.6 650.7L315.9 654.5L315.9 658.3L318.6 658.3L318.6 661.4L315.9 661.4L315.9 664.4L320.5 664.4L320.5 667.5L315.9 667.5L315.9 670.1L321.7 670.1L323.2 673.6L327.4 673.6L331.8 676.6L331.8 682.9M340.3 682.7L340.3 679.8L343.7 679.8L343.7 682.7" fill="#0b0909"/>
<path d="M305.9 676.2L307.6 676.2L307.6 678.3L305.9 678.3L305.9 676.2M308.9 676.2L310.6 676.2L310.6 678.3L308.9 678.3L308.9 676.2M315.9 670.1L315.9 673.9M318.6 661.4L318.6 664.4M314.6 673.6L331.8 673.6"/>
</g>
<path d="M127.6 788.6L322.3 1125.5H-68.7z" fill="#fff"/>
<path d="M325.7 1058L366.9 1125.5H284.5z" fill="#ece0d5"/>
<path d="M389.5 1074.3L420.2 1125.5H358.8z" fill="#ece0d5"/>
<path d="M441 1080.3L468.1 1125.5H413.9z" fill="#ece0d5"/>
<path d="M490.3 1080.3L517.4 1125.5H463.2z" fill="#ece0d5"/>
<path d="M524 1125.5H561L542.50 1158.3z" fill="#2f7193"/>
<path d="M561 1125.5H603.5L582.25 1163.8z" fill="#2f7193"/>
<path d="M603.5 1125.5H650.2L626.85 1167.5z" fill="#2f7193"/>
<path d="M650.2 1125.5H695.5L672.85 1167.5z" fill="#2f7193"/>
<path d="M695.5 1125.5H768L731.75 1190z" fill="#2f7193"/>
<rect x="0" y="1125" width="788" height="1.1" fill="#fff"/>
<path d="M326 1014.5V1058M389.5 1014.5V1075M441.2 1014.5V1081M490.3 1014.5V1081" stroke="#d6d0ca" stroke-width="1" fill="none"/>
<path d="M521.5 1014V1158" stroke="#8a8580" stroke-width="0.8" stroke-dasharray="1.2 2" fill="none"/>
<text x="127.3" y="893.2" font-family="'Liberation Sans', Arial, sans-serif" font-size="15.9" font-weight="bold" fill="#111" text-anchor="middle" textLength="69.5" lengthAdjust="spacingAndGlyphs" stroke="#111" stroke-width="0.35">UKRAINE</text>
<text x="127.8" y="926.8" font-family="'Liberation Serif', 'Times New Roman', serif" font-size="31" font-weight="bold" fill="#e9411f" text-anchor="middle" textLength="75.5" lengthAdjust="spacingAndGlyphs">640%</text>
<text x="268" y="845.3" font-family="'Liberation Sans', Arial, sans-serif" font-size="15.6" font-weight="bold" fill="#f6efe7" textLength="57" lengthAdjust="spacingAndGlyphs">Biggest</text>
<rect x="330" y="832.5" width="70" height="15" fill="#f8ddd5"/>
<text x="333" y="845.3" font-family="'Liberation Sans', Arial, sans-serif" font-size="15.6" fill="#ea4526" textLength="64.5" lengthAdjust="spacingAndGlyphs" stroke="#ea4526" stroke-width="0.35">Increase</text>
<text x="405.3" y="845.3" font-family="'Liberation Sans', Arial, sans-serif" font-size="15.6" font-weight="bold" fill="#f6efe7" textLength="27" lengthAdjust="spacingAndGlyphs">and</text>
<rect x="438.5" y="832.5" width="75" height="15" fill="#d5e4ea"/>
<text x="441.3" y="845.3" font-family="'Liberation Sans', Arial, sans-serif" font-size="15.6" fill="#3b7fa6" textLength="69.5" lengthAdjust="spacingAndGlyphs" stroke="#3b7fa6" stroke-width="0.35">Decrease</text>
<text x="519" y="845.3" font-family="'Liberation Sans', Arial, sans-serif" font-size="15.6" font-weight="bold" fill="#f6efe7" textLength="148.5" lengthAdjust="spacingAndGlyphs">in Military Spending</text>
<text x="268" y="864" font-family="'Liberation Sans', Arial, sans-serif" font-size="12.4" fill="#e9e2da" textLength="188" lengthAdjust="spacingAndGlyphs">out of top 40 Countries, 2021-2022</text>
<text x="268" y="890.8" font-family="'Liberation Sans', Arial, sans-serif" font-size="12.4" fill="#e9e2da" textLength="306.5" lengthAdjust="spacingAndGlyphs" xml:space="preserve">A year of war has ballooned <tspan font-weight="bold" fill="#fff">Ukraine’s military spending</tspan></text>
<text x="268" y="905.2" font-family="'Liberation Sans', Arial, sans-serif" font-size="12.4" fill="#e9e2da" textLength="297" lengthAdjust="spacingAndGlyphs" xml:space="preserve"><tspan font-weight="bold" fill="#fff">to $44 billion.</tspan> This is a more than sixfold increase from</text>
<text x="268" y="919.6" font-family="'Liberation Sans', Arial, sans-serif" font-size="12.4" fill="#e9e2da" textLength="292" lengthAdjust="spacingAndGlyphs" xml:space="preserve">2021, marking the highest single-year surge in military</text>
<text x="268" y="934.0" font-family="'Liberation Sans', Arial, sans-serif" font-size="12.4" fill="#e9e2da" textLength="249.5" lengthAdjust="spacingAndGlyphs" xml:space="preserve">spending ever documented in modern history.</text>
<text x="324.3" y="990" font-family="'Liberation Sans', Arial, sans-serif" font-size="12" fill="#e9e2da" text-anchor="middle" textLength="29.5" lengthAdjust="spacingAndGlyphs">Qatar</text>
<text x="324.3" y="1008.7" font-family="'Liberation Serif', 'Times New Roman', serif" font-size="18.5" font-weight="bold" fill="#f0694c" text-anchor="middle" textLength="36" lengthAdjust="spacingAndGlyphs">27%</text>
<text x="387.7" y="975.7" font-family="'Liberation Sans', Arial, sans-serif" font-size="12" fill="#e9e2da" text-anchor="middle" textLength="30" lengthAdjust="spacingAndGlyphs">Saudi</text>
<text x="387.9" y="990" font-family="'Liberation Sans', Arial, sans-serif" font-size="12" fill="#e9e2da" text-anchor="middle" textLength="35" lengthAdjust="spacingAndGlyphs">Arabia</text>
<text x="387.5" y="1008.7" font-family="'Liberation Serif', 'Times New Roman', serif" font-size="18.5" font-weight="bold" fill="#f0694c" text-anchor="middle" textLength="34" lengthAdjust="spacingAndGlyphs">16%</text>
<text x="444.8" y="990" font-family="'Liberation Sans', Arial, sans-serif" font-size="12" fill="#e9e2da" text-anchor="middle" textLength="42.5" lengthAdjust="spacingAndGlyphs">Belgium</text>
<text x="444.3" y="1008.7" font-family="'Liberation Serif', 'Times New Roman', serif" font-size="18.5" font-weight="bold" fill="#f0694c" text-anchor="middle" textLength="34" lengthAdjust="spacingAndGlyphs">13%</text>
<text x="518.8" y="990" font-family="'Liberation Sans', Arial, sans-serif" font-size="12" fill="#e9e2da" text-anchor="middle" textLength="64.5" lengthAdjust="spacingAndGlyphs">Netherlands</text>
<text x="502" y="1008.7" font-family="'Liberation Serif', 'Times New Roman', serif" font-size="18.5" font-weight="bold" fill="#f0694c" text-anchor="middle" textLength="32.5" lengthAdjust="spacingAndGlyphs">12%</text>
<text x="542.8" y="1088" font-family="'Liberation Sans', Arial, sans-serif" font-size="12" fill="#e9e2da" text-anchor="middle" textLength="28.5" lengthAdjust="spacingAndGlyphs">Brazil</text>
<text x="542" y="1106.3" font-family="'Liberation Serif', 'Times New Roman', serif" font-size="13.2" font-weight="bold" fill="#4d93b8" text-anchor="middle" textLength="32.0" lengthAdjust="spacingAndGlyphs">-7.9%</text>
<text x="582.9" y="1088" font-family="'Liberation Sans', Arial, sans-serif" font-size="12" fill="#e9e2da" text-anchor="middle" textLength="37.7" lengthAdjust="spacingAndGlyphs">Mexico</text>
<text x="582.5" y="1106.3" font-family="'Liberation Serif', 'Times New Roman', serif" font-size="13.2" font-weight="bold" fill="#4d93b8" text-anchor="middle" textLength="32.0" lengthAdjust="spacingAndGlyphs">-9.7%</text>
<text x="626.7" y="1088" font-family="'Liberation Sans', Arial, sans-serif" font-size="12" fill="#e9e2da" text-anchor="middle" textLength="35" lengthAdjust="spacingAndGlyphs">Kuwait</text>
<text x="626.6" y="1106.3" font-family="'Liberation Serif', 'Times New Roman', serif" font-size="13.2" font-weight="bold" fill="#4d93b8" text-anchor="middle" textLength="25.5" lengthAdjust="spacingAndGlyphs">-11%</text>
<text x="673" y="1088" font-family="'Liberation Sans', Arial, sans-serif" font-size="12" fill="#e9e2da" text-anchor="middle" textLength="45" lengthAdjust="spacingAndGlyphs">Thailand</text>
<text x="673" y="1106.3" font-family="'Liberation Serif', 'Times New Roman', serif" font-size="13.2" font-weight="bold" fill="#4d93b8" text-anchor="middle" textLength="25.5" lengthAdjust="spacingAndGlyphs">-11%</text>
<text x="729.8" y="1088" font-family="'Liberation Sans', Arial, sans-serif" font-size="12" fill="#e9e2da" text-anchor="middle" textLength="38.5" lengthAdjust="spacingAndGlyphs">Türkiye</text>
<text x="730.7" y="1106.3" font-family="'Liberation Serif', 'Times New Roman', serif" font-size="13.2" font-weight="bold" fill="#4d93b8" text-anchor="middle" textLength="30.5" lengthAdjust="spacingAndGlyphs">-26%</text>
<text x="46.5" y="1202.5" font-family="'Liberation Sans', Arial, sans-serif" font-size="10.3" font-style="italic" fill="#cfcac4" textLength="468" lengthAdjust="spacingAndGlyphs">Source: Trends In World Military Expenditure, 2022, Stockholm International Peace Research Institute (SIPRI)</text>
<path d="M46.5 1208.8H741M46.5 1256.3H741" stroke="#c8c3bd" stroke-width="0.8" fill="none"/>
<g fill="#efe3d6"><circle cx="60.6" cy="1232.6" r="15.5"/><circle cx="75.3" cy="1232.6" r="15.5"/></g>
<path d="M67.950 1215.500l-3.600 3l3.600 3.600l3.600 -3.600z" fill="#000"/>
<g fill="#000"><circle cx="58" cy="1234.3" r="9.7"/><circle cx="78" cy="1234.3" r="9.700"/></g>
<path d="M67.950 1225c-1.500 2.500 -3.500 4.400 -6 5.500c-3.500 0.300 -6.500 2.500 -7.500 5.500l-1.700 0.300l-0.300 2.200l1.800 0.500c0.500 2.500 2 4.500 4.500 5.500l1.500 2.500h17l2 -2.500c1.800 -0.500 3.300 -1.700 4 -3.300l1.800 -0.300l0.400 -2.400l-2.200 -0.500c-0.600 -2.500 -2.600 -4.500 -5.500 -5.300l0.200 -2l-2 1.200c-3.200 -0.800 -6 -3.400 -8 -6.900z" fill="#efe3d6"/>
<text x="93.9" y="1231.2" font-family="'Liberation Sans', Arial, sans-serif" font-size="11.6" font-weight="bold" fill="#efe3d6" stroke="#efe3d6" stroke-width="0.3" textLength="54.6" lengthAdjust="spacingAndGlyphs" letter-spacing="1">VISUAL</text>
<text x="93.9" y="1243.5" font-family="'Liberation Sans', Arial, sans-serif" font-size="11.6" font-weight="bold" fill="#efe3d6" stroke="#efe3d6" stroke-width="0.3" textLength="89.8" lengthAdjust="spacingAndGlyphs" letter-spacing="1">CAPITALIST</text>
<text x="46.5" y="1269" font-family="'Liberation Sans', Arial, sans-serif" font-size="7.6" font-weight="bold" fill="#e4dfd9" textLength="79" lengthAdjust="spacingAndGlyphs">COLLABORATORS</text>
<text x="135" y="1269" font-family="'Liberation Sans', Arial, sans-serif" font-size="7.2" font-weight="bold" fill="#f4efe9" textLength="70.7" lengthAdjust="spacingAndGlyphs">RESEARCH + WRITING</text>
<text x="212" y="1269" font-family="'Liberation Sans', Arial, sans-serif" font-size="7.6" fill="#9a958f" textLength="43.7" lengthAdjust="spacingAndGlyphs">Nick Routley</text>
<text x="262.5" y="1269" font-family="'Liberation Sans', Arial, sans-serif" font-size="7.6" fill="#9a958f">|</text>
<text x="270.8" y="1269" font-family="'Liberation Sans', Arial, sans-serif" font-size="7.2" font-weight="bold" fill="#f4efe9" textLength="82.5" lengthAdjust="spacingAndGlyphs">ART DIRECTION + DESIGN</text>
<text x="359.5" y="1269" font-family="'Liberation Sans', Arial, sans-serif" font-size="7.6" fill="#9a958f" textLength="31.3" lengthAdjust="spacingAndGlyphs">Joyce Ma</text>
<circle cx="428.5" cy="1234.3" r="9.6" fill="none" stroke="#efe9e2" stroke-width="0.9"/>
<circle cx="452.3" cy="1234.3" r="9.6" fill="none" stroke="#efe9e2" stroke-width="0.9"/>
<circle cx="546.5" cy="1234.3" r="9.6" fill="none" stroke="#efe9e2" stroke-width="0.9"/>
<circle cx="570.8" cy="1234.3" r="9.6" fill="none" stroke="#efe9e2" stroke-width="0.9"/>
<circle cx="649.3" cy="1234.3" r="9.6" fill="none" stroke="#efe9e2" stroke-width="0.9"/>
<path d="M429.6 1240.6v-5.400h2l0.300 -2.200h-2.300v-1.400c0 -0.700 0.300 -1.100 1.100 -1.100h1.300v-2c-0.500 -0.100 -1.200 -0.100 -1.800 -0.100c-1.800 0 -3 1.100 -3 3v1.600h-2v2.200h2v5.400z" fill="#efe9e2"/>
<path d="M449.3 1229.8l7.4 4.500l-7.400 4.500z" fill="#efe9e2"/>
<path d="M552.6 1230.700c-0.500 0.200 -1 0.400 -1.500 0.400c0.500 -0.300 1 -0.900 1.200 -1.500c-0.500 0.300 -1.100 0.500 -1.700 0.700c-0.500 -0.500 -1.200 -0.900 -2 -0.900c-1.500 0 -2.700 1.200 -2.700 2.700c0 0.200 0 0.400 0.100 0.600c-2.200 -0.100 -4.200 -1.200 -5.500 -2.800c-0.200 0.400 -0.400 0.900 -0.400 1.400c0 0.900 0.500 1.800 1.200 2.200c-0.400 0 -0.900 -0.100 -1.200 -0.300c0 1.300 0.900 2.400 2.100 2.700c-0.400 0.100 -0.800 0.100 -1.200 0c0.300 1.100 1.300 1.900 2.500 1.900c-1.100 0.900 -2.500 1.300 -3.900 1.100c1.200 0.800 2.600 1.200 4.100 1.200c4.900 0 7.600 -4.100 7.600 -7.600v-0.300c0.500 -0.400 1 -0.900 1.300 -1.500z" fill="#efe9e2"/>
<rect x="565.6" y="1229.1" width="10.4" height="10.4" rx="2.6" fill="#efe9e2"/><circle cx="570.8" cy="1234.3" r="2.5" fill="#000"/><circle cx="573.9" cy="1231.2" r="0.7" fill="#000"/>
<path d="M646.2 1229l7.200 5.900l-3.300 0.300l1.800 3.700l-1.500 0.700l-1.800 -3.700l-2.400 2.300z" fill="#efe9e2"/>
<text x="465.3" y="1237.4" font-family="'Liberation Sans', Arial, sans-serif" font-size="9" fill="#e2ddd7" textLength="61.3" lengthAdjust="spacingAndGlyphs">/visualcapitalist</text>
<text x="585.3" y="1237.4" font-family="'Liberation Sans', Arial, sans-serif" font-size="9" fill="#e2ddd7" textLength="44" lengthAdjust="spacingAndGlyphs">@visualcap</text>
<text x="664" y="1237.4" font-family="'Liberation Sans', Arial, sans-serif" font-size="9.6" fill="#f1ece6" textLength="77.5" lengthAdjust="spacingAndGlyphs">visualcapitalist.com</text>
<g stroke="#1c0f0a" stroke-width="0.6" stroke-linejoin="round" fill="#f16a48">
<path d="M45.4 1039.5H132.5V1037.4H163.3V1039.8H192L194 1038.6H213.5V1047.6H194L192 1046.3H163.3V1048.8H132.5V1047.2H45.4z"/>
<path d="M-2 1024.2H6.3V1027H37.7V1035.4H6.3V1036.8H45.4V1049.3H-2z"/>
<path d="M6.3 1027V1035.4M6.3 1036.800H45.4M14.5 1036.800V1049.300M37.7 1031H6.3" fill="none"/>
<path d="M5.6 1038.8h4.9v4.200h-4.900zM5.600 1044.400h4.900v3.500h-4.900z" fill="#5a2412" stroke="none"/>
<circle cx="3" cy="1029" r="1" fill="#5a2412" stroke="none"/>
<path d="M16.5 1049.3l6.500 10h-3l-6 -10zM5.500 1049.300l-5 9h-2.500l4.500 -9z"/>
<path d="M-2 1059H28.600V1082H-2z"/>
<path d="M-2 1062.500h8.500M-2 1065.500h8.500M-2 1068.500h8.500M-2 1071.500h8.500M-2 1074.500h8.500M-2 1077.500h8.500" fill="none" stroke-width="1.1"/>
<path d="M13 1072.500c0.500 4.500 5 6 11.500 4.500M15.500 1068.500a1.500 1.500 0 1 0 0.100 0" fill="none" stroke-width="0.800"/>
<path d="M29.300 1071H62.800V1073H29.300zM32.800 1073h1.600v9h-1.600zM39.800 1073h1.600v9h-1.600zM52.300 1073h1.600v9h-1.600zM59.300 1073h1.600v9h-1.600z"/>
<path d="M-2 1081.400H65.600V1085.600H67V1094H86.500L96.300 1084.200H117.600V1072.800L134.800 1070.500L150.800 1054.500H204.600V1083H208V1090.500H180L176 1098H96L92 1098.500H51L29 1087.500H-2z"/>
<path d="M29.300 1085.600H65.600M53 1096H86.500L96.300 1086M40.500 1085.600L53 1096M117.600 1083H204.600M150.800 1054.500V1083M165.500 1056V1083M134.800 1070.500V1083" fill="none"/>
<path d="M152.500 1061.500h10.500M152.500 1064h10.500M152.500 1066.500h10.500M152.500 1069h10.500M152.500 1071.500h10.500M152.500 1074h10.500M152.500 1076.500h10.500" fill="none" stroke="#8a3318" stroke-width="0.9"/>
<path d="M173.500 1059.500h14.500v8.500h-14.500zM120 1075h4.500v3.500h-4.500zM126.800 1075h5.700v3.500h-5.700z" fill="#1a0b06" stroke="none"/>
<path d="M173 1069.500h15.500v1.800h-15.500zM170 1080.500h10v1.800h-10z" fill="#1a0b06" stroke="none"/>
<path d="M193.800 1060.500h7v10h-7z" fill="#f6e6dc" stroke-width="0.5"/><path d="M195.500 1062h5.300v10h-5.300z" fill="#f16a48"/>
<circle cx="142.800" cy="1068.500" r="1.300"/><circle cx="146" cy="1070.300" r="1.300"/><circle cx="149.200" cy="1068.500" r="1.300"/>
<circle cx="138.200" cy="1102.500" r="4.400" fill="#fff" stroke-width="0.700"/>
</g>
<circle cx="-13.5" cy="1107.8" r="16.40" fill="#0b0b0b" stroke="#0b0b0b" stroke-width="1.8" stroke-dasharray="3.2 1.3"/>
<circle cx="-13.5" cy="1107.8" r="12.11" fill="none" stroke="#fff" stroke-width="0.5"/>
<circle cx="-13.5" cy="1107.8" r="9.69" fill="none" stroke="#fff" stroke-width="0.9" stroke-dasharray="0.9 3.2"/>
<circle cx="-13.5" cy="1107.8" r="6.40" fill="#fff"/>
<circle cx="-13.5" cy="1107.8" r="3.81" fill="none" stroke="#0b0b0b" stroke-width="0.5"/>
<circle cx="25.8" cy="1107.8" r="16.40" fill="#0b0b0b" stroke="#0b0b0b" stroke-width="1.8" stroke-dasharray="3.2 1.3"/>
<circle cx="25.8" cy="1107.8" r="12.11" fill="none" stroke="#fff" stroke-width="0.5"/>
<circle cx="25.8" cy="1107.8" r="9.69" fill="none" stroke="#fff" stroke-width="0.9" stroke-dasharray="0.9 3.2"/>
<circle cx="25.8" cy="1107.8" r="6.40" fill="#fff"/>
<circle cx="25.8" cy="1107.8" r="3.81" fill="none" stroke="#0b0b0b" stroke-width="0.5"/>
<circle cx="112.8" cy="1107.8" r="16.40" fill="#0b0b0b" stroke="#0b0b0b" stroke-width="1.8" stroke-dasharray="3.2 1.3"/>
<circle cx="112.8" cy="1107.8" r="12.11" fill="none" stroke="#fff" stroke-width="0.5"/>
<circle cx="112.8" cy="1107.8" r="9.69" fill="none" stroke="#fff" stroke-width="0.9" stroke-dasharray="0.9 3.2"/>
<circle cx="112.8" cy="1107.8" r="6.40" fill="#fff"/>
<circle cx="112.8" cy="1107.8" r="3.81" fill="none" stroke="#0b0b0b" stroke-width="0.5"/>
<circle cx="166.5" cy="1107.8" r="16.40" fill="#0b0b0b" stroke="#0b0b0b" stroke-width="1.8" stroke-dasharray="3.2 1.3"/>
<circle cx="166.5" cy="1107.8" r="12.11" fill="none" stroke="#fff" stroke-width="0.5"/>
<circle cx="166.5" cy="1107.8" r="9.69" fill="none" stroke="#fff" stroke-width="0.9" stroke-dasharray="0.9 3.2"/>
<circle cx="166.5" cy="1107.8" r="6.40" fill="#fff"/>
<circle cx="166.5" cy="1107.8" r="3.81" fill="none" stroke="#0b0b0b" stroke-width="0.5"/>
<g stroke="#1c0f0a" stroke-width="0.6" stroke-linejoin="round" fill="#f16a48">
<path d="M174 1110.500H318.700L303.500 1124.800H182z" fill="#0b0b0b" stroke="none"/>
<path d="M176 1108.500H321L318.700 1111.300H175z" fill="#fff" stroke="none"/>
<path d="M204.600 1051.600L213.500 1052.200L222.300 1058.600L226 1060.500H271.700L273.200 1058.800L274.500 1060.800L284.400 1063.600L299.600 1065.900L284.400 1067.800L274.500 1070L273.200 1072.300L271.700 1070.600H252V1074H215V1070.600H204.600z"/>
<path d="M226 1060.500V1070.600M229.500 1060.500V1070.600M246 1060.500V1070.600M262 1060.500V1070.600M271.700 1060.500V1070.600M284.400 1063.600V1067.800M204.600 1066H222" fill="none"/>
<path d="M284.400 1063.800L300.500 1065.900L284.400 1067.700z" fill="#f0805f" stroke="none"/>
<path d="M211 1074H252.500L250 1079.500H246L244 1084.500H216L214 1079.500H211z"/>
<path d="M211 1077H251M216 1081H246M232 1074v10" fill="none"/>
<path d="M169 1103.800L176.600 1084.600H211L216 1081.500H246L248 1090.500H252.700L258.500 1085.800H263V1084.600H278V1085.800H293.300L326.300 1106.100L321 1108.500H175L169 1106.500z"/>
<path d="M171 1100.500H317M194 1100.500V1108.500M226 1100.500V1108.500M259.500 1100.500V1108.500M278 1100.500V1108.500M297 1100.500V1108.500" fill="none"/>
<rect x="177.3" y="1091.500" width="12.7" height="7" rx="1.800"/><rect x="179.9" y="1093.500" width="7.5" height="3" fill="#c9512f" stroke="none"/>
<rect x="196.3" y="1091.500" width="12.7" height="7" rx="1.800"/><rect x="198.9" y="1093.500" width="7.5" height="3" fill="#c9512f" stroke="none"/>
<rect x="261.6" y="1091.500" width="10.8" height="7" rx="1.800"/><rect x="264.2" y="1093.500" width="5.6" height="3" fill="#c9512f" stroke="none"/>
<rect x="278.7" y="1091.500" width="12.7" height="7" rx="1.800"/><rect x="281.3" y="1093.500" width="7.5" height="3" fill="#c9512f" stroke="none"/>
<path d="M300.500 1093.500h2.500v3h-2.500zM305 1096h2.500v3h-2.500z" fill="#c9512f" stroke-width="0.4"/>
</g>
<circle cx="195" cy="1116.500" r="6.600" fill="#0b0b0b" stroke="#fff" stroke-width="0.600"/><circle cx="195" cy="1116.500" r="4.600" fill="none" stroke="#fff" stroke-width="0.500"/><circle cx="195" cy="1116.500" r="2.900" fill="#fff"/>
<circle cx="219.8" cy="1116.500" r="6.600" fill="#0b0b0b" stroke="#fff" stroke-width="0.600"/><circle cx="219.8" cy="1116.500" r="4.600" fill="none" stroke="#fff" stroke-width="0.500"/><circle cx="219.8" cy="1116.500" r="2.900" fill="#fff"/>
<circle cx="244.5" cy="1116.500" r="6.600" fill="#0b0b0b" stroke="#fff" stroke-width="0.600"/><circle cx="244.5" cy="1116.500" r="4.600" fill="none" stroke="#fff" stroke-width="0.500"/><circle cx="244.5" cy="1116.500" r="2.900" fill="#fff"/>
<circle cx="269.2" cy="1116.500" r="6.600" fill="#0b0b0b" stroke="#fff" stroke-width="0.600"/><circle cx="269.2" cy="1116.500" r="4.600" fill="none" stroke="#fff" stroke-width="0.500"/><circle cx="269.2" cy="1116.500" r="2.900" fill="#fff"/>
<circle cx="293.9" cy="1116.500" r="6.600" fill="#0b0b0b" stroke="#fff" stroke-width="0.600"/><circle cx="293.9" cy="1116.500" r="4.600" fill="none" stroke="#fff" stroke-width="0.500"/><circle cx="293.9" cy="1116.500" r="2.900" fill="#fff"/>
<circle cx="178.500" cy="1112.700" r="2.300" fill="#fff"/><circle cx="311.700" cy="1112.500" r="2.300" fill="#fff"/>
<g stroke="#1c0f0a" stroke-width="0.6" stroke-linejoin="round" fill="#f16a48">
<path d="M374 1116H421V1120.800H374z" fill="#fff" stroke="none"/>
<path d="M356 1116.400V1101L358.500 1098.800L376.500 1095L384.200 1090.500H414.600V1100.500L437.500 1102L442 1104V1116.400H436.500A9 9 0 0 0 418.700 1116.400H376A9 9 0 0 0 358.200 1116.400z"/>
<path d="M383.400 1093V1115.500M397.800 1091V1115.500M414.600 1100.500V1115.500M356 1104H383M358.500 1098.800L376 1101.500L383.400 1093" fill="none"/>
<path d="M385.700 1095h7.600v4.300h-7.600zM401.700 1095h7.800v4.300h-7.800z" fill="#4a1d10"/>
<path d="M387 1096h5v2.300h-5zM403 1096h5.200v2.300h-5.200z" fill="#f16a48" stroke="none"/>
<path d="M384.500 1103h11v11h-11zM384.500 1103l11 11M395.500 1103l-11 11M400.500 1103h11.500v11h-11.500zM400.500 1103l11.500 11M412 1103l-11.500 11" fill="none"/>
<path d="M440.500 1104V1098.500" fill="none" stroke="#f16a48" stroke-width="0.8"/>
</g>
<circle cx="367.1" cy="1118" r="7.100" fill="#0b0b0b"/><circle cx="367.1" cy="1118" r="2.500" fill="#fff"/>
<circle cx="427.6" cy="1118" r="7.100" fill="#0b0b0b"/><circle cx="427.6" cy="1118" r="2.500" fill="#fff"/>
<g fill="#f16a48" stroke="none">
<rect x="598" y="935.200" width="84.500" height="1.500"/>
<ellipse cx="640.300" cy="927.800" rx="6.200" ry="2"/>
<rect x="639.500" y="928" width="1.700" height="14"/>
<rect x="636.800" y="937.800" width="7" height="1.400"/>
<path d="M606.0 957.6L607.8 954.4L616.6 950.5L621.1 947.0L628.2 943.4L633.5 941.6L668.2 941.6L668.2 947.9L672.1 947.9L672.8 945.6L674.2 945.6L674.6 950.5L682.4 952.3L703.7 954.4L706.4 943.4L708.1 932.8L710.1 943.4L709.0 953.4L714.7 954.4L715.4 956.2L706.4 957.3L682.4 959.1L669.9 961.5L657.5 963.3L616.6 963.0L609.5 961.2z"/>
<rect x="700" y="941.400" width="17" height="1.300"/>
</g>
<path d="M617.0 951.1L621.6 947.5L628.2 944.3L634.4 943.4L631.9 950.2z" fill="#1a0b06"/>
<path d="M623.8 946.3L622.0 950.7M613.1 953.7L668.2 953.4M647.7 941.6L647.7 953.4M668.2 947.9L668.2 953.4" stroke="#7a2c14" stroke-width="0.5" fill="none"/>
<path d="M617.0 951.1L621.6 947.5L628.2 944.3L634.4 943.4" stroke="#f16a48" stroke-width="0.7" fill="none"/>
<path d="M637 960.300h20.500v5.300h-20.500zM635.300 967.400h20.400v1.800h-20.400zM621.500 965.800h4v1.200h-4z" fill="#f5e6da"/>
<circle cx="662.800" cy="957.600" r="0.800" fill="#3a160c"/><circle cx="667.300" cy="957.600" r="0.800" fill="#3a160c"/>
</svg>
</body>
</html>
